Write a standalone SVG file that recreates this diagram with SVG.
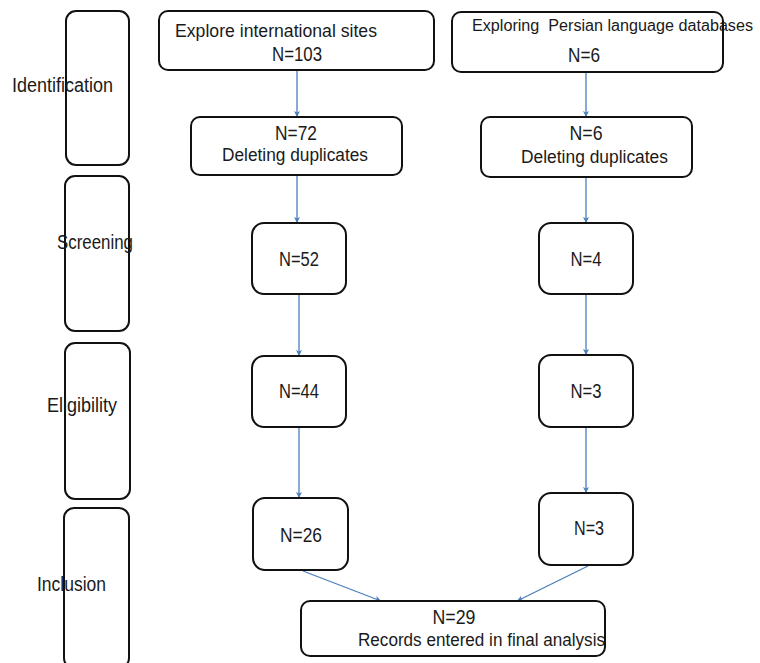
<svg xmlns="http://www.w3.org/2000/svg" width="760" height="663" viewBox="0 0 760 663">
<style>
.box{fill:#fff;stroke:#111;stroke-width:2}
.stage{fill:none;stroke:#111;stroke-width:2}
.t{font-family:"Liberation Sans",Arial,sans-serif;font-size:17.5px;fill:#1a1a1a}
.n{font-family:"Liberation Sans",Arial,sans-serif;font-size:20px;fill:#1a1a1a;text-anchor:middle}
.lbl{font-family:"Liberation Sans",Arial,sans-serif;font-size:19.5px;fill:#1a1a1a}
.conn line{stroke:#4a7ebb;stroke-width:1.3;fill:none}
</style>
<defs>
<marker id="ah" markerWidth="8" markerHeight="8" refX="7" refY="4" orient="auto" markerUnits="userSpaceOnUse">
<path d="M1,1 L7,4 L1,7 L2.5,4 Z" fill="#4a7ebb"/>
</marker>
</defs>
<rect width="760" height="663" fill="#fff"/>

<g id="stage-identification">
<rect class="stage" x="66" y="11" width="63" height="154" rx="10"/>
<text class="lbl" x="12" y="92" textLength="101" lengthAdjust="spacingAndGlyphs">Identification</text>
</g>
<g id="stage-screening">
<rect class="stage" x="65" y="176" width="64" height="155" rx="10"/>
<text class="lbl" x="57" y="249" textLength="76" lengthAdjust="spacingAndGlyphs">Screening</text>
</g>
<g id="stage-eligibility">
<rect class="stage" x="65" y="343" width="65" height="156" rx="10"/>
<text class="lbl" x="47" y="412" textLength="70" lengthAdjust="spacingAndGlyphs">Eligibility</text>
</g>
<g id="stage-inclusion">
<rect class="stage" x="64" y="508" width="65" height="160" rx="10"/>
<text class="lbl" x="37" y="591" textLength="69" lengthAdjust="spacingAndGlyphs">Inclusion</text>
</g>

<g class="conn" id="connectors">
<line x1="297" y1="71" x2="297" y2="117" marker-end="url(#ah)"/>
<line x1="586" y1="73" x2="586" y2="117" marker-end="url(#ah)"/>
<line x1="297" y1="176" x2="297" y2="223" marker-end="url(#ah)"/>
<line x1="586" y1="178" x2="586" y2="223" marker-end="url(#ah)"/>
<line x1="299" y1="295" x2="299" y2="356" marker-end="url(#ah)"/>
<line x1="586" y1="295" x2="586" y2="355" marker-end="url(#ah)"/>
<line x1="299" y1="428" x2="299" y2="498" marker-end="url(#ah)"/>
<line x1="586" y1="428" x2="586" y2="493" marker-end="url(#ah)"/>
<line x1="303" y1="571" x2="381" y2="601" marker-end="url(#ah)"/>
<line x1="588" y1="566" x2="517" y2="601" marker-end="url(#ah)"/>
</g>

<g id="n-intl">
<rect class="box" x="159" y="11" width="275" height="59" rx="9"/>
<text class="t" x="175" y="37" textLength="202" lengthAdjust="spacingAndGlyphs">Explore international sites</text>
<text class="n" x="297" y="61" textLength="50" lengthAdjust="spacingAndGlyphs">N=103</text>
</g>
<g id="n-persian">
<rect class="box" x="452" y="12" width="271" height="60" rx="9"/>
<text class="t" x="472" y="31" style="font-size:16px" textLength="281" lengthAdjust="spacingAndGlyphs" xml:space="preserve">Exploring  Persian language databases</text>
<text class="n" x="584" y="62" textLength="32" lengthAdjust="spacingAndGlyphs">N=6</text>
</g>
<g id="n-dup-left">
<rect class="box" x="191" y="117" width="211" height="58" rx="9"/>
<text class="n" x="296" y="140" textLength="42" lengthAdjust="spacingAndGlyphs">N=72</text>
<text class="t" x="222" y="161" textLength="146" lengthAdjust="spacingAndGlyphs">Deleting duplicates</text>
</g>
<g id="n-dup-right">
<rect class="box" x="481" y="117" width="211" height="60" rx="9"/>
<text class="n" x="586" y="140" textLength="33" lengthAdjust="spacingAndGlyphs">N=6</text>
<text class="t" x="521" y="163" textLength="147" lengthAdjust="spacingAndGlyphs">Deleting duplicates</text>
</g>
<g id="n-52">
<rect class="box" x="252" y="223" width="94" height="71" rx="12"/>
<text class="n" x="299" y="266" textLength="40" lengthAdjust="spacingAndGlyphs">N=52</text>
</g>
<g id="n-4">
<rect class="box" x="539" y="223" width="94" height="71" rx="12"/>
<text class="n" x="586" y="266" textLength="31" lengthAdjust="spacingAndGlyphs">N=4</text>
</g>
<g id="n-44">
<rect class="box" x="252" y="356" width="94" height="71" rx="12"/>
<text class="n" x="299" y="398" textLength="40" lengthAdjust="spacingAndGlyphs">N=44</text>
</g>
<g id="n-3a">
<rect class="box" x="539" y="355" width="94" height="72" rx="12"/>
<text class="n" x="586" y="398" textLength="31" lengthAdjust="spacingAndGlyphs">N=3</text>
</g>
<g id="n-26">
<rect class="box" x="253" y="498" width="95" height="72" rx="12"/>
<text class="n" x="301" y="542" textLength="42" lengthAdjust="spacingAndGlyphs">N=26</text>
</g>
<g id="n-3b">
<rect class="box" x="539" y="493" width="94" height="72" rx="12"/>
<text class="n" x="589" y="535" textLength="30" lengthAdjust="spacingAndGlyphs">N=3</text>
</g>
<g id="n-final">
<rect class="box" x="301" y="601" width="304" height="55" rx="9"/>
<text class="n" x="454" y="624" textLength="43" lengthAdjust="spacingAndGlyphs">N=29</text>
<text class="t" x="358" y="646" textLength="247" lengthAdjust="spacingAndGlyphs">Records entered in final analysis</text>
</g>
</svg>
